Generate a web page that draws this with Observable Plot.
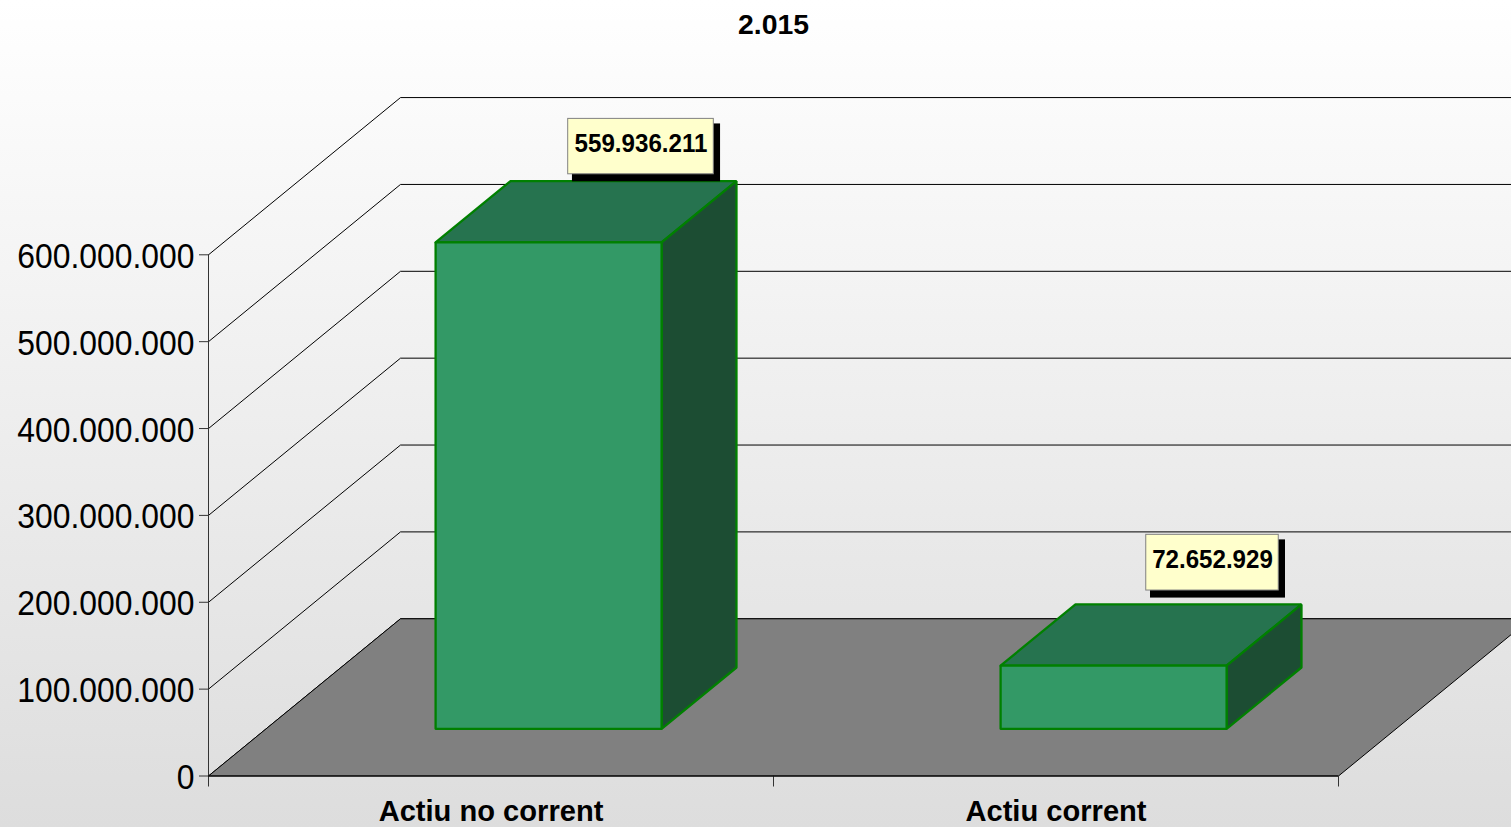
<!DOCTYPE html>
<html>
<head>
<meta charset="utf-8">
<script src="https://cdn.jsdelivr.net/npm/d3@7"></script>
<script src="https://cdn.jsdelivr.net/npm/@observablehq/plot@0.6"></script>
<style>
html,body{margin:0;padding:0;overflow:hidden;background:#fff}
</style>
</head>
<body>
<div id="chart"></div>
<script>
const title = "2.015";
const categories = ["Actiu no corrent", "Actiu corrent"];
const values = [559936211, 72652929];
const yTicks = [0, 100000000, 200000000, 300000000, 400000000, 500000000, 600000000];

const fmt = d3.formatLocale({decimal: ",", thousands: ".", grouping: [3], currency: ["", ""]}).format(",d");

// oblique projection: depth d in [0,1] shifts a point along both scales
const depthU = 192 / 565;
const depthV = 181000000;
const P = (u, v, d) => ({u: u + d * depthU, v: v + d * depthV});

const barU = [0.3, 0.7];
const barD = [0.3, 0.69];

const face = (pts, fill, stroke, strokeWidth) =>
  Plot.line([...pts, pts[0]], {x: "u", y: "v", fill, stroke, strokeWidth, strokeLinejoin: "miter"});

const grid = yTicks.map(t =>
  Plot.line([P(0, t, 0), P(0, t, 1), P(2, t, 1)], {x: "u", y: "v", stroke: "#000", strokeWidth: 1}));

const floor = face([P(0, 0, 0), P(2, 0, 0), P(2, 0, 1), P(0, 0, 1)], "#808080", "#000", 1);

const barMarks = values.flatMap((val, i) => {
  const u0 = i + barU[0], u1 = i + barU[1], [d0, d1] = barD;
  const g = "#008000", w = 2.3;
  return [
    face([P(u0, val, d0), P(u1, val, d0), P(u1, val, d1), P(u0, val, d1)], "#26734F", g, w),
    face([P(u1, 0, d0), P(u1, 0, d1), P(u1, val, d1), P(u1, val, d0)], "#1C4D33", g, w),
    face([P(u0, 0, d0), P(u1, 0, d0), P(u1, val, d0), P(u0, val, d0)], "#339966", g, w)
  ];
});

// callout offsets from the centre of each bar's top face (pixels)
const calloutBox = [{dx: 54, dy: -64.4, w: 145.6, h: 55.4}, {dx: 60.5, dy: -71.6, w: 132.5, h: 55.7}];
const calloutMarks = values.flatMap((val, i) => {
  const a = P(i + 0.5, val, 0.5), b = calloutBox[i];
  const box = (w, h, dx, dy, fill, stroke) => Plot.rect([a], {
    x1: "u", x2: "u", y1: "v", y2: "v",
    insetLeft: -w / 2, insetRight: -w / 2, insetTop: -h / 2, insetBottom: -h / 2,
    dx, dy, fill, stroke, strokeWidth: 1
  });
  return [
    box(b.w + 2.5, b.h + 2.5, b.dx + 5.5, b.dy + 6.3, "#000", "none"),
    box(b.w, b.h, b.dx, b.dy, "#FFFFCC", "#808080"),
    Plot.text([a], {
      x: "u", y: "v", text: () => fmt(val), dx: b.dx, dy: b.dy - 3.5,
      fontSize: 26.5, fontWeight: "bold", fill: "#000", className: "callout-text"
    })
  ];
});

const chart = Plot.plot({
  width: 1511,
  height: 827,
  marginLeft: 208,
  marginRight: 173,
  marginTop: 254.3,
  marginBottom: 51.5,
  x: {domain: [0, 2], axis: null},
  y: {domain: [0, 600000000], axis: null},
  style: {
    background: "linear-gradient(#ffffff, #dddddd)",
    fontFamily: "'Liberation Sans', Arial, sans-serif",
    color: "#000"
  },
  marks: [
    ...grid,
    floor,
    Plot.axisY(yTicks, {
      anchor: "left", label: null, tickSize: 9, tickFormat: () => "", stroke: "#333"
    }),
    Plot.axisY(yTicks, {
      anchor: "left", label: null, tickSize: 0, tickPadding: 14, dy: 1.5,
      tickFormat: fmt, fontSize: 35.8, fill: "#000"
    }),
    Plot.ruleX([0], {y1: 0, y2: 600000000, stroke: "#333"}),
    Plot.axisX([0, 1, 2], {
      anchor: "bottom", label: null, tickSize: 11, tickFormat: () => "", stroke: "#333"
    }),
    Plot.ruleY([0], {stroke: "#000"}),
    ...barMarks,
    ...calloutMarks,
    Plot.text(categories, {
      x: (d, i) => i + 0.5, y: () => 0, text: d => d, dy: 35,
      fontSize: 30, fontWeight: "bold", fill: "#000", className: "cat-text"
    }),
    Plot.text([title], {
      x: () => 1, frameAnchor: "top", dy: -241,
      fontSize: 28.4, fontWeight: "bold", fill: "#000", className: "title-text"
    })
  ]
});
document.getElementById("chart").appendChild(chart);

// the reference's text is slightly condensed horizontally
const squeeze = (sel, k) => chart.querySelectorAll(sel).forEach(t => {
  const len = t.getComputedTextLength();
  if (len > 0) {
    t.setAttribute("textLength", len * k);
    t.setAttribute("lengthAdjust", "spacingAndGlyphs");
  }
});
squeeze('g[aria-label="y-axis tick label"] text', 0.89);
squeeze('.callout-text text', 0.91);
squeeze('.cat-text text', 0.97);
</script>
</body>
</html>
